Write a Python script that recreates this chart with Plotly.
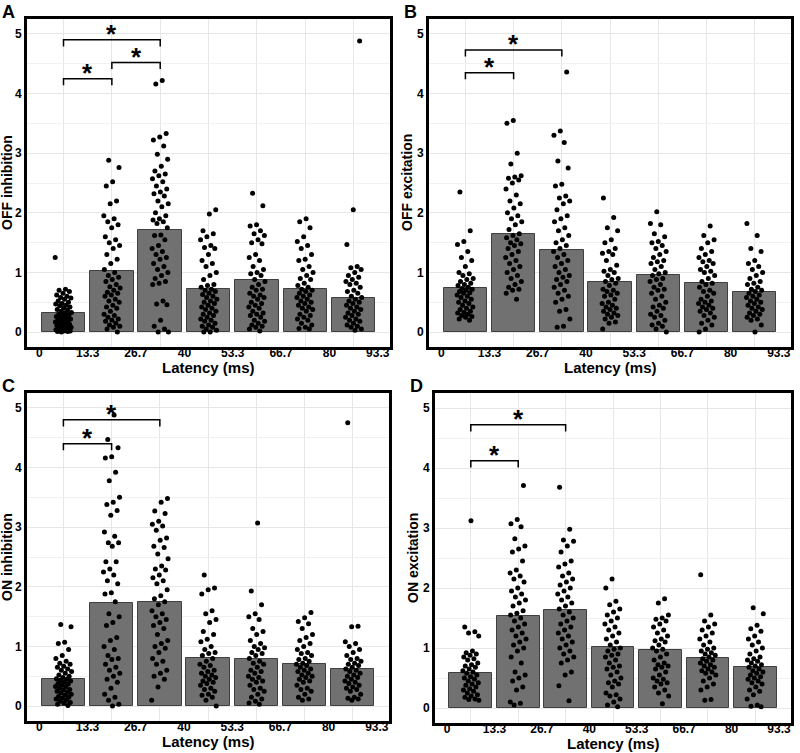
import plotly.graph_objects as go

# --- data ---
bin_labels = ["0", "13.3", "26.7", "40", "53.3", "66.7", "80", "93.3"]
bin_edges = [0, 13.333, 26.667, 40, 53.333, 66.667, 80, 93.333]
bin_centers = [6.667, 20, 33.333, 46.667, 60, 73.333, 86.667]

panel_names = ["OFF inhibition", "OFF excitation", "ON inhibition", "ON excitation"]
panel_letters = ["A", "B", "C", "D"]

off_inh_mean = [0.32, 1.03, 1.72, 0.72, 0.88, 0.72, 0.58]
off_exc_mean = [0.74, 1.65, 1.38, 0.84, 0.95, 0.83, 0.68]
on_inh_mean = [0.45, 1.73, 1.75, 0.81, 0.79, 0.70, 0.62]
on_exc_mean = [0.59, 1.53, 1.63, 1.02, 0.96, 0.84, 0.69]

off_inh_pts = [
    [1.25, 0.72, 0.70, 0.68, 0.65, 0.62, 0.6, 0.58, 0.57, 0.55, 0.52, 0.5, 0.48, 0.47, 0.45, 0.44, 0.42, 0.4, 0.38,
     0.37, 0.35, 0.33, 0.32, 0.3, 0.29, 0.28, 0.26, 0.25, 0.24, 0.22, 0.21, 0.2, 0.19, 0.18, 0.17, 0.15, 0.14, 0.13,
     0.12, 0.11, 0.1, 0.09, 0.08, 0.07, 0.06, 0.05, 0.05, 0.04, 0.03, 0.03, 0.02, 0.02, 0.01, 0.01, 0.0],
    [2.88, 2.76, 2.52, 2.45, 2.2, 2.15, 1.95, 1.9, 1.85, 1.8, 1.75, 1.6, 1.55, 1.5, 1.45, 1.4, 1.3, 1.22, 1.15, 1.05,
     1.0, 0.95, 0.92, 0.88, 0.85, 0.8, 0.76, 0.74, 0.7, 0.67, 0.65, 0.62, 0.6, 0.55, 0.52, 0.5, 0.45, 0.42, 0.4, 0.35,
     0.3, 0.28, 0.25, 0.22, 0.2, 0.18, 0.15, 0.12, 0.1, 0.08, 0.05, 0.0],
    [4.22, 4.16, 3.33, 3.27, 3.22, 3.12, 2.98, 2.9, 2.78, 2.7, 2.65, 2.62, 2.57, 2.52, 2.45, 2.4, 2.35, 2.32, 2.28, 2.2,
     2.15, 2.1, 2.0, 1.95, 1.9, 1.88, 1.85, 1.82, 1.75, 1.63, 1.62, 1.55, 1.45, 1.4, 1.35, 1.3, 1.25, 1.22, 1.15, 1.1,
     1.05, 1.0, 0.95, 0.9, 0.85, 0.82, 0.8, 0.52, 0.47, 0.46, 0.2, 0.1, 0.05, 0.0, 0.0],
    [2.05, 1.98, 1.7, 1.65, 1.6, 1.55, 1.45, 1.42, 1.4, 1.3, 1.2, 1.15, 1.1, 1.0, 0.95, 0.88, 0.8, 0.78, 0.75, 0.72,
     0.7, 0.68, 0.65, 0.63, 0.6, 0.58, 0.55, 0.52, 0.5, 0.48, 0.45, 0.42, 0.4, 0.38, 0.35, 0.32, 0.3, 0.28, 0.25, 0.22,
     0.2, 0.18, 0.15, 0.12, 0.1, 0.08, 0.05, 0.03, 0.0, 0.0],
    [2.33, 2.12, 1.8, 1.78, 1.7, 1.65, 1.62, 1.55, 1.5, 1.48, 1.3, 1.25, 1.2, 1.1, 1.05, 1.0, 0.98, 0.95, 0.88, 0.85,
     0.8, 0.75, 0.72, 0.7, 0.65, 0.62, 0.6, 0.58, 0.55, 0.5, 0.48, 0.45, 0.42, 0.4, 0.35, 0.32, 0.3, 0.28, 0.25, 0.2,
     0.18, 0.15, 0.12, 0.1, 0.08, 0.05, 0.02],
    [1.9, 1.85, 1.75, 1.6, 1.52, 1.45, 1.4, 1.3, 1.22, 1.2, 1.1, 1.05, 1.0, 0.95, 0.9, 0.88, 0.82, 0.78, 0.75, 0.72,
     0.7, 0.68, 0.65, 0.62, 0.6, 0.58, 0.55, 0.52, 0.5, 0.48, 0.45, 0.42, 0.4, 0.38, 0.35, 0.3, 0.28, 0.25, 0.22, 0.2,
     0.15, 0.12, 0.08, 0.06, 0.05],
    [4.88, 2.05, 1.47, 1.1, 1.08, 1.05, 1.0, 0.95, 0.92, 0.88, 0.85, 0.82, 0.8, 0.75, 0.7, 0.68, 0.65, 0.6, 0.58, 0.55,
     0.52, 0.5, 0.48, 0.45, 0.42, 0.4, 0.38, 0.35, 0.32, 0.3, 0.28, 0.25, 0.22, 0.2, 0.18, 0.15, 0.12, 0.1, 0.08, 0.05,
     0.03],
]

off_exc_pts = [
    [2.35, 1.7, 1.52, 1.47, 1.35, 1.25, 1.2, 1.1, 1.0, 0.98, 0.95, 0.9, 0.88, 0.85, 0.82, 0.8, 0.78, 0.75, 0.73, 0.72,
     0.7, 0.68, 0.66, 0.65, 0.62, 0.6, 0.58, 0.55, 0.52, 0.5, 0.48, 0.45, 0.42, 0.4, 0.38, 0.35, 0.33, 0.32, 0.3, 0.28,
     0.26, 0.25, 0.22, 0.2],
    [3.55, 3.5, 3.0, 2.82, 2.62, 2.6, 2.58, 2.55, 2.5, 2.4, 2.3, 2.2, 2.15, 2.08, 2.0, 1.95, 1.9, 1.85, 1.8, 1.72,
     1.65, 1.62, 1.58, 1.55, 1.5, 1.48, 1.45, 1.4, 1.35, 1.3, 1.25, 1.2, 1.15, 1.1, 1.05, 1.0, 0.95, 0.9, 0.85, 0.8,
     0.75, 0.72, 0.7, 0.65, 0.55],
    [4.36, 3.37, 3.3, 3.18, 2.87, 2.75, 2.48, 2.45, 2.28, 2.25, 2.2, 2.15, 2.05, 1.95, 1.9, 1.85, 1.75, 1.7, 1.62,
     1.55, 1.5, 1.45, 1.4, 1.35, 1.3, 1.25, 1.2, 1.15, 1.1, 1.05, 1.0, 0.95, 0.92, 0.88, 0.85, 0.8, 0.75, 0.7, 0.65,
     0.6, 0.55, 0.5, 0.38, 0.35, 0.22, 0.1, 0.08],
    [2.25, 1.92, 1.75, 1.7, 1.55, 1.5, 1.4, 1.35, 1.32, 1.3, 1.2, 1.12, 1.05, 1.02, 1.0, 0.95, 0.9, 0.88, 0.85, 0.82,
     0.78, 0.72, 0.7, 0.68, 0.65, 0.62, 0.6, 0.55, 0.5, 0.48, 0.45, 0.42, 0.4, 0.38, 0.35, 0.32, 0.3, 0.28, 0.25, 0.22,
     0.17, 0.15, 0.05],
    [2.02, 1.82, 1.8, 1.65, 1.6, 1.52, 1.5, 1.45, 1.4, 1.35, 1.3, 1.25, 1.2, 1.18, 1.15, 1.1, 1.05, 1.0, 0.98, 0.95,
     0.9, 0.88, 0.85, 0.8, 0.75, 0.72, 0.7, 0.65, 0.6, 0.55, 0.5, 0.45, 0.42, 0.4, 0.35, 0.3, 0.28, 0.25, 0.2, 0.15,
     0.12, 0.1, 0.05, 0.0],
    [1.78, 1.62, 1.55, 1.5, 1.4, 1.35, 1.3, 1.25, 1.2, 1.18, 1.15, 1.1, 1.05, 1.02, 1.0, 0.95, 0.9, 0.85, 0.82, 0.8,
     0.75, 0.7, 0.68, 0.65, 0.6, 0.55, 0.52, 0.5, 0.48, 0.45, 0.42, 0.4, 0.38, 0.35, 0.32, 0.28, 0.25, 0.2, 0.15, 0.12,
     0.05, 0.0],
    [1.82, 1.62, 1.4, 1.35, 1.2, 1.15, 1.1, 1.05, 1.0, 0.95, 0.9, 0.85, 0.82, 0.8, 0.75, 0.72, 0.7, 0.68, 0.65, 0.62,
     0.6, 0.58, 0.55, 0.52, 0.5, 0.48, 0.45, 0.42, 0.4, 0.38, 0.35, 0.32, 0.3, 0.28, 0.25, 0.22, 0.2, 0.12, 0.0],
]

on_inh_pts = [
    [1.37, 1.33, 1.07, 1.05, 0.95, 0.85, 0.8, 0.75, 0.72, 0.7, 0.67, 0.65, 0.62, 0.6, 0.58, 0.55, 0.52, 0.5, 0.48,
     0.46, 0.45, 0.43, 0.42, 0.4, 0.38, 0.37, 0.35, 0.33, 0.32, 0.3, 0.28, 0.27, 0.25, 0.23, 0.22, 0.2, 0.18, 0.16,
     0.15, 0.13, 0.12, 0.1, 0.08, 0.06, 0.05, 0.03, 0.01],
    [4.88, 4.47, 4.33, 4.18, 4.16, 3.92, 3.78, 3.5, 3.42, 3.38, 3.28, 3.2, 2.92, 2.85, 2.74, 2.74, 2.68, 2.42, 2.42,
     2.3, 2.25, 2.2, 2.1, 2.05, 1.9, 1.88, 1.75, 1.55, 1.5, 1.4, 1.35, 1.15, 1.1, 1.0, 0.95, 0.85, 0.8, 0.78, 0.7, 0.65,
     0.6, 0.55, 0.5, 0.45, 0.4, 0.3, 0.2, 0.15, 0.1, 0.03, 0.0],
    [3.48, 3.42, 3.27, 3.23, 3.1, 3.05, 3.02, 2.95, 2.82, 2.78, 2.68, 2.66, 2.55, 2.47, 2.35, 2.3, 2.28, 2.2, 2.15,
     2.1, 2.05, 1.95, 1.85, 1.8, 1.75, 1.7, 1.6, 1.55, 1.5, 1.45, 1.4, 1.35, 1.3, 1.2, 1.1, 1.05, 1.0, 0.97, 0.9, 0.8,
     0.75, 0.7, 0.6, 0.55, 0.5, 0.45, 0.32, 0.1],
    [2.2, 1.98, 1.95, 1.88, 1.6, 1.55, 1.45, 1.4, 1.25, 1.2, 1.12, 1.08, 1.0, 0.95, 0.9, 0.88, 0.85, 0.8, 0.75, 0.7,
     0.68, 0.65, 0.6, 0.58, 0.55, 0.52, 0.5, 0.48, 0.45, 0.42, 0.4, 0.38, 0.35, 0.3, 0.28, 0.25, 0.2, 0.18, 0.15, 0.1,
     0.0],
    [3.07, 1.93, 1.7, 1.55, 1.5, 1.45, 1.3, 1.25, 1.2, 1.1, 1.05, 1.0, 0.98, 0.95, 0.9, 0.88, 0.85, 0.8, 0.75, 0.72,
     0.7, 0.65, 0.6, 0.58, 0.55, 0.5, 0.48, 0.45, 0.42, 0.4, 0.35, 0.3, 0.28, 0.25, 0.2, 0.15, 0.12, 0.08, 0.05, 0.03],
    [1.57, 1.48, 1.42, 1.38, 1.3, 1.2, 1.15, 1.1, 1.05, 1.0, 0.95, 0.9, 0.88, 0.85, 0.8, 0.78, 0.75, 0.72, 0.7, 0.68,
     0.65, 0.62, 0.6, 0.58, 0.55, 0.52, 0.5, 0.48, 0.45, 0.42, 0.4, 0.35, 0.3, 0.28, 0.25, 0.2, 0.15, 0.12, 0.1],
    [4.75, 1.34, 1.33, 1.08, 1.05, 1.0, 0.95, 0.9, 0.85, 0.8, 0.78, 0.75, 0.72, 0.7, 0.68, 0.65, 0.62, 0.6, 0.58,
     0.55, 0.52, 0.5, 0.48, 0.45, 0.42, 0.4, 0.38, 0.35, 0.32, 0.3, 0.28, 0.25, 0.2, 0.15, 0.13, 0.12, 0.1],
]

on_exc_pts = [
    [3.12, 1.35, 1.27, 1.25, 1.2, 0.95, 0.92, 0.9, 0.88, 0.85, 0.82, 0.8, 0.75, 0.72, 0.7, 0.68, 0.65, 0.62, 0.6,
     0.58, 0.55, 0.52, 0.5, 0.48, 0.45, 0.42, 0.4, 0.38, 0.35, 0.32, 0.3, 0.28, 0.25, 0.22, 0.2, 0.18, 0.15, 0.14,
     0.13],
    [3.71, 3.14, 3.07, 3.02, 2.82, 2.7, 2.65, 2.6, 2.45, 2.3, 2.25, 2.2, 2.15, 2.1, 2.0, 1.95, 1.9, 1.85, 1.8, 1.75,
     1.7, 1.62, 1.58, 1.55, 1.5, 1.45, 1.4, 1.35, 1.3, 1.25, 1.2, 1.15, 1.1, 1.05, 1.0, 0.95, 0.85, 0.75, 0.6, 0.55,
     0.5, 0.45, 0.35, 0.3, 0.1, 0.08, 0.05],
    [3.68, 2.98, 2.8, 2.78, 2.7, 2.6, 2.45, 2.4, 2.35, 2.25, 2.2, 2.15, 2.1, 2.05, 2.0, 1.95, 1.9, 1.85, 1.8, 1.75,
     1.7, 1.65, 1.6, 1.55, 1.5, 1.45, 1.4, 1.35, 1.3, 1.25, 1.2, 1.15, 1.1, 1.05, 1.0, 0.95, 0.9, 0.85, 0.8, 0.75, 0.6,
     0.55, 0.37, 0.12],
    [2.15, 2.0, 1.78, 1.72, 1.65, 1.6, 1.55, 1.5, 1.45, 1.4, 1.35, 1.3, 1.25, 1.2, 1.15, 1.1, 1.05, 1.0, 0.98, 0.95,
     0.9, 0.88, 0.85, 0.8, 0.75, 0.7, 0.68, 0.65, 0.6, 0.55, 0.5, 0.45, 0.42, 0.4, 0.35, 0.25, 0.22, 0.2, 0.15, 0.1,
     0.05, 0.02],
    [1.82, 1.75, 1.55, 1.5, 1.48, 1.45, 1.4, 1.35, 1.3, 1.25, 1.2, 1.15, 1.12, 1.1, 1.05, 1.0, 0.98, 0.95, 0.9, 0.85,
     0.8, 0.75, 0.72, 0.7, 0.68, 0.65, 0.6, 0.55, 0.5, 0.48, 0.45, 0.42, 0.4, 0.35, 0.3, 0.25, 0.2, 0.07],
    [2.22, 1.55, 1.45, 1.4, 1.35, 1.3, 1.25, 1.2, 1.15, 1.1, 1.05, 1.0, 0.98, 0.95, 0.92, 0.9, 0.88, 0.85, 0.82, 0.8,
     0.78, 0.75, 0.72, 0.7, 0.68, 0.65, 0.62, 0.6, 0.58, 0.55, 0.5, 0.45, 0.4, 0.35, 0.3, 0.14, 0.13],
    [1.67, 1.57, 1.38, 1.32, 1.28, 1.2, 1.15, 1.1, 1.05, 1.0, 0.95, 0.9, 0.85, 0.82, 0.8, 0.78, 0.75, 0.72, 0.7, 0.68,
     0.65, 0.62, 0.6, 0.58, 0.55, 0.52, 0.5, 0.48, 0.45, 0.42, 0.4, 0.35, 0.3, 0.28, 0.22, 0.15, 0.05, 0.03, 0.02],
]

# significance brackets: (from bin, to bin, bracket height)
off_inh_sig = [(0, 1, 4.25), (1, 2, 4.52), (0, 2, 4.9)]
off_exc_sig = [(0, 1, 4.35), (0, 2, 4.73)]
on_inh_sig = [(0, 1, 4.4), (0, 2, 4.8)]
on_exc_sig = [(0, 1, 4.12), (0, 2, 4.72)]

all_means = [off_inh_mean, off_exc_mean, on_inh_mean, on_exc_mean]
all_pts = [off_inh_pts, off_exc_pts, on_inh_pts, on_exc_pts]
all_sig = [off_inh_sig, off_exc_sig, on_inh_sig, on_exc_sig]

# --- layout in pixels (800 x 753 page) ---
W, H = 800, 753
# left, right, top, bottom of each plotting panel
panel_px = [(27, 390, 19, 347), (429, 791, 19, 347), (27, 389, 393, 721), (435, 791, 393, 723)]
ytitle_px = [7, 407, 7, 413]
xtitle_px = [367, 367, 741, 743]
FONT = "Liberation Sans, Arial, sans-serif"


def px_x(x):
    return x / W


def px_y(y):
    return 1 - y / H


fig = go.Figure()
layout = {}
annotations = []

for k in range(4):
    xa = "x" if k == 0 else f"x{k + 1}"
    ya = "y" if k == 0 else f"y{k + 1}"
    l, r, t, b = panel_px[k]

    # bars (means)
    fig.add_trace(go.Bar(
        x=bin_centers, y=all_means[k], width=12,
        marker=dict(color="#717171", line=dict(color="#3f3f3f", width=1)),
        xaxis=xa, yaxis=ya, showlegend=False, hoverinfo="skip"))

    # jittered points
    xs, ys = [], []
    for b_i, vals in enumerate(all_pts[k]):
        for i, v in enumerate(vals):
            frac = (i * 0.6180339887 + b_i * 0.31 + k * 0.17) % 1.0
            xs.append(bin_centers[b_i] + (frac - 0.5) * 4.6)
            ys.append(v)
    fig.add_trace(go.Scatter(
        x=xs, y=ys, mode="markers",
        marker=dict(color="black", size=5),
        xaxis=xa, yaxis=ya, showlegend=False))

    # brackets + stars
    for (a, c, h) in all_sig[k]:
        x0 = bin_centers[a]
        x1 = bin_centers[c]
        fig.add_trace(go.Scatter(
            x=[x0, x0, x1, x1], y=[h - 0.11, h, h, h - 0.11], mode="lines",
            line=dict(color="black", width=1.5),
            xaxis=xa, yaxis=ya, showlegend=False, hoverinfo="skip"))
        annotations.append(dict(
            x=(x0 + x1) / 2, y=h, xref=xa, yref=ya, text="*", showarrow=False,
            yanchor="bottom", yshift=-11,
            font=dict(family=FONT, size=26, color="black", weight="bold")))

    key = "" if k == 0 else str(k + 1)
    layout["xaxis" + key] = dict(
        domain=[px_x(l), px_x(r)], anchor=ya, range=[-3.4, 96.7],
        tickmode="array", tickvals=bin_edges, ticktext=bin_labels, ticks="",
        ticklabelstandoff=-7,
        showgrid=False, zeroline=False,
        showline=True, mirror=True, linecolor="black", linewidth=3,
        tickfont=dict(family=FONT, size=12, color="black", weight="bold"),
        minor=dict(tickmode="array", tickvals=bin_centers, showgrid=True,
                   gridcolor="#e6e6e6", gridwidth=1, ticks=""),
        fixedrange=True)
    layout["yaxis" + key] = dict(
        domain=[px_y(b), px_y(t)], anchor=xa, range=[-0.25, 5.25],
        tickmode="array", tickvals=[0, 1, 2, 3, 4, 5], ticks="",
        showgrid=True, gridcolor="#e6e6e6", gridwidth=1, zeroline=False,
        showline=True, mirror=True, linecolor="black", linewidth=3,
        tickfont=dict(family=FONT, size=12, color="black", weight="bold"),
        minor=dict(tickmode="array", tickvals=[0.5, 1.5, 2.5, 3.5, 4.5],
                   showgrid=True, gridcolor="#f1f1f1", gridwidth=1, ticks=""),
        fixedrange=True)

    # y title
    annotations.append(dict(
        x=px_x(ytitle_px[k]), y=px_y((t + b) / 2), xref="paper", yref="paper",
        text=panel_names[k], textangle=-90, showarrow=False,
        xanchor="center", yanchor="middle",
        font=dict(family=FONT, size=14, color="black", weight="bold")))
    # x title
    annotations.append(dict(
        x=px_x((l + r) / 2), y=px_y(xtitle_px[k]), xref="paper", yref="paper",
        text="Latency (ms)", showarrow=False, xanchor="center", yanchor="middle",
        font=dict(family=FONT, size=15, color="black", weight="bold")))
    # panel letter
    annotations.append(dict(
        x=px_x(l - 27), y=px_y(t - 19), xref="paper", yref="paper",
        text=panel_letters[k], showarrow=False, xanchor="left", yanchor="top",
        font=dict(family=FONT, size=18, color="black", weight="bold")))

fig.update_layout(
    width=W, height=H,
    margin=dict(l=0, r=0, t=0, b=0),
    paper_bgcolor="white", plot_bgcolor="white",
    bargap=0, annotations=annotations,
    **layout)

# page body has a default 8px margin; drop it so the figure fills the window
fig.write_html("out.html", config={"displayModeBar": False},
               post_script="document.body.style.margin='0';")
